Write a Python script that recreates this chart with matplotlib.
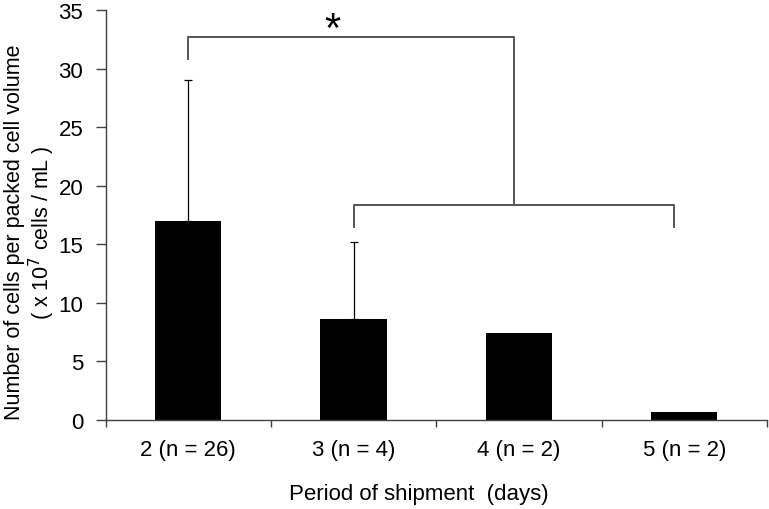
import matplotlib
matplotlib.use('Agg')
import matplotlib.pyplot as plt
import numpy as np

plt.rcParams['font.family'] = ['Liberation Sans', 'DejaVu Sans']

# data
categories = ['2 (n = 26)', '3 (n = 4)', '4 (n = 2)', '5 (n = 2)']
means = [17.0, 8.6, 7.45, 0.65]
sd_upper = [12.0, 6.6, 0.0, 0.0]

# significance brackets (x in category units, y in data units)
bracket_top_x = [0.0, 0.0, 1.97, 1.97]
bracket_top_y = [30.8, 32.7, 32.7, 18.4]
bracket_low_x = [1.0, 1.0, 2.94, 2.94]
bracket_low_y = [16.5, 18.4, 18.4, 16.5]
star_x, star_y = 0.87, 33.3

fig = plt.figure(figsize=(7.69, 5.10), dpi=100)
ax = fig.add_axes([0.1372, 0.1745, 0.8602, 0.8035])

x = np.arange(len(categories))
ax.bar(x, means, width=0.4, color='black', zorder=2)
errs = np.array([np.zeros(len(sd_upper)), sd_upper])
has_err = np.array(sd_upper) > 0
ax.errorbar(x[has_err], np.array(means)[has_err], yerr=errs[:, has_err],
            fmt='none', ecolor='black', elinewidth=0.9, capsize=3, capthick=0.9, zorder=3)

ax.plot(bracket_top_x, bracket_top_y, color='#555555', lw=1.4, clip_on=False)
ax.plot(bracket_low_x, bracket_low_y, color='#555555', lw=1.4, clip_on=False)
ax.text(star_x, star_y, '*', fontsize=30, ha='center', va='center')

ax.set_xlim(-0.5, 3.5)
ax.set_ylim(0, 35)
ax.set_yticks(range(0, 36, 5))
ax.set_xticks(np.arange(-0.5, 4, 1), minor=False)
ax.set_xticklabels([])
ax.set_xticks(x, minor=True)
ax.set_xticklabels(categories, minor=True, fontsize=16)
ax.tick_params(axis='x', which='minor', length=0, pad=14)
ax.tick_params(axis='x', which='major', length=5, width=1, color='#404040', direction='out')
ax.tick_params(axis='y', length=7, width=1, color='#404040', labelsize=16, pad=9)

for s in ['top', 'right']:
    ax.spines[s].set_visible(False)
for s in ['left', 'bottom']:
    ax.spines[s].set_color('#404040')
    ax.spines[s].set_linewidth(1)

ax.set_xlabel('Period of shipment  (days)', fontsize=16)
ax.xaxis.set_label_coords(0.474, -0.18)
ax.xaxis.label.set_va('center')
ax.set_ylabel('Number of cells per packed cell volume\n( x 10$^{7}$ cells / mL )',
              fontsize=15.5, linespacing=1.1)
ax.yaxis.label.set_va('center')
ax.yaxis.set_label_coords(-0.113, 0.46)

fig.savefig('out.png', dpi=100)
